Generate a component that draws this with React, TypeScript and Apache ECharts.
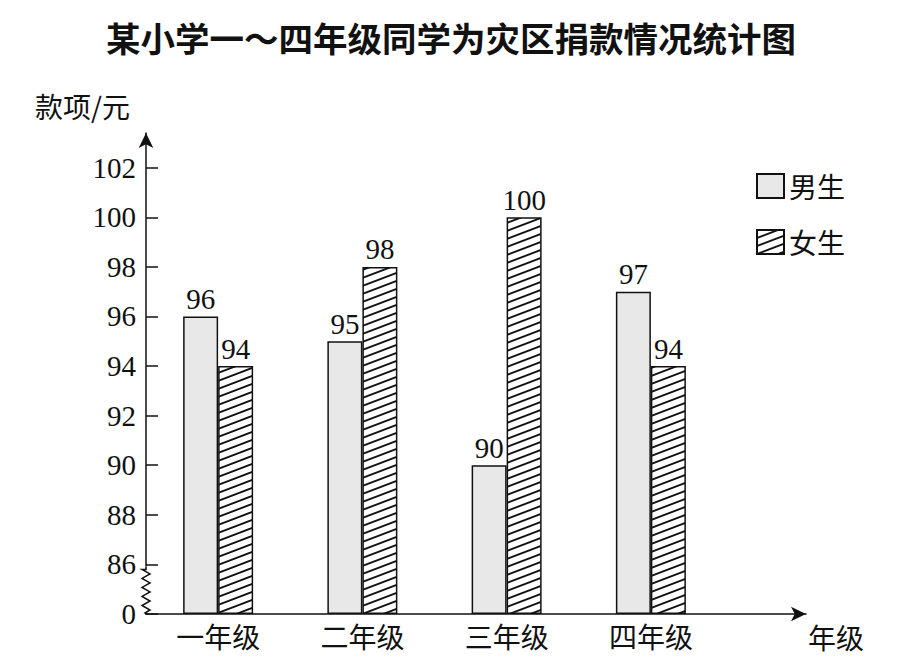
import React, { useEffect, useRef } from 'react';
import * as echarts from 'echarts';

const chartTitle = '某小学一～四年级同学为灾区捐款情况统计图';
const yName = '款项/元';
const xName = '年级';
const categories = ['一年级', '二年级', '三年级', '四年级'];
const seriesNames = ['男生', '女生'];
const boys = [96, 95, 90, 97];
const girls = [94, 98, 100, 94];
const yTickValues = [84, 86, 88, 90, 92, 94, 96, 98, 100, 102];
const yTickLabels = ['0', '86', '88', '90', '92', '94', '96', '98', '100', '102'];
const yMin = 84;
const yMax = 103.4;
const yInterval = 2;
const yBreakValue = 86;

function makeHatch(ink: string) {
  const w = 21;
  const h = 8;
  const c = document.createElement('canvas');
  c.width = w;
  c.height = h;
  const ctx = c.getContext('2d');
  if (ctx) {
    ctx.fillStyle = '#ffffff';
    ctx.fillRect(0, 0, w, h);
    ctx.strokeStyle = ink;
    ctx.lineWidth = 1.9;
    for (let k = -1; k <= 1; k++) {
      ctx.beginPath();
      ctx.moveTo(-w, h * 2 + k * h);
      ctx.lineTo(w * 2, -h + k * h);
      ctx.stroke();
    }
  }
  return { image: c, repeat: 'repeat', imageWidth: w, imageHeight: h };
}

export default function App() {
  const ref = useRef<HTMLDivElement>(null);
  useEffect(() => {
    if (!ref.current) return;
    const chart = echarts.init(ref.current, null, { renderer: 'svg' });
    const serif = '"Liberation Serif", "DejaVu Serif", serif';
    const cjk = '"Noto Sans CJK SC", "Noto Sans", sans-serif';
    const ink = '#111';
    const GL = 146;
    const GT = 133;
    const GH = 481;
    const axisLineStyle = { color: ink, width: 1.5 };
    const hatch = makeHatch(ink);

    chart.setOption({
      animation: false,
      backgroundColor: '#fff',
      title: [
        {
          text: chartTitle,
          left: 106,
          top: 20,
          padding: 0,
          textStyle: { fontFamily: cjk, fontSize: 34.5, fontWeight: 'bold', color: ink },
        },
        {
          text: yName,
          left: 35,
          top: 92,
          padding: 0,
          textStyle: { fontFamily: cjk, fontSize: 28, fontWeight: 'normal', color: ink },
        },
      ],
      legend: {
        orient: 'vertical',
        left: 756,
        top: 172,
        padding: 0,
        itemWidth: 27,
        itemHeight: 24,
        itemGap: 28,
        icon: 'rect',
        data: seriesNames,
        textStyle: { fontFamily: cjk, fontSize: 28, color: ink },
      },
      grid: [
        { left: GL, top: GT, width: 577, height: GH },
        { left: GL, top: GT, width: 660, height: GH },
      ],
      xAxis: [
        {
          type: 'category',
          gridIndex: 0,
          data: categories,
          axisLine: { show: false },
          axisTick: { show: false },
          axisLabel: { fontFamily: cjk, fontSize: 28, color: ink, margin: 8 },
        },
        {
          type: 'value',
          gridIndex: 1,
          min: 0,
          max: 1,
          axisLine: {
            show: true,
            onZero: false,
            lineStyle: axisLineStyle,
            symbol: ['none', 'arrow'],
            symbolSize: [11, 15],
          },
          axisTick: { show: false },
          axisLabel: { show: false },
          splitLine: { show: false },
          name: xName,
          nameLocation: 'end',
          nameGap: 2,
          nameTextStyle: {
            fontFamily: cjk,
            fontSize: 28,
            color: ink,
            align: 'left',
            verticalAlign: 'top',
            padding: [9, 0, 0, 0],
          },
        },
      ],
      yAxis: [
        {
          type: 'value',
          gridIndex: 0,
          min: yMin,
          max: yMax,
          interval: yInterval,
          startValue: yMin,
          axisLine: {
            show: true,
            onZero: false,
            lineStyle: axisLineStyle,
            symbol: ['none', 'arrow'],
            symbolSize: [11, 15],
          },
          axisTick: {
            show: true,
            inside: true,
            length: 12,
            customValues: yTickValues,
            lineStyle: axisLineStyle,
          },
          axisLabel: {
            customValues: yTickValues,
            formatter: (v: number) => {
              const i = yTickValues.indexOf(v);
              return i >= 0 ? yTickLabels[i] : '';
            },
            fontFamily: serif,
            fontSize: 29,
            color: ink,
            margin: 10,
          },
          splitLine: { show: false },
        },
        { type: 'value', gridIndex: 1, show: false, min: 0, max: 1 },
      ],
      series: [
        {
          name: seriesNames[0],
          type: 'bar',
          xAxisIndex: 0,
          yAxisIndex: 0,
          data: boys,
          barWidth: 35,
          barGap: '0%',
          itemStyle: { color: '#e8e8e8', borderColor: ink, borderWidth: 1.5 },
          label: {
            show: true,
            position: 'top',
            distance: 3,
            fontFamily: serif,
            fontSize: 29,
            color: ink,
          },
        },
        {
          name: seriesNames[1],
          type: 'bar',
          xAxisIndex: 0,
          yAxisIndex: 0,
          data: girls,
          barWidth: 35,
          barGap: '0%',
          itemStyle: {
            color: hatch,
            borderColor: ink,
            borderWidth: 1.5,
          },
          label: {
            show: true,
            position: 'top',
            distance: 3,
            fontFamily: serif,
            fontSize: 29,
            color: ink,
          },
        },
      ],
    });

    // axis break (zigzag) between 0 and the first real tick
    const yTop = chart.convertToPixel({ yAxisIndex: 0 }, yBreakValue) as number;
    const yBot = chart.convertToPixel({ yAxisIndex: 0 }, yMin) as number;
    const zTop = yTop + 5;
    const zBot = yBot - 4;
    const n = 9;
    const pts: number[][] = [[GL, yTop + 2], [GL, zTop]];
    for (let i = 0; i <= n; i++) {
      const y = zTop + ((zBot - zTop) * i) / n;
      pts.push([i % 2 === 0 ? GL - 4 : GL + 4, y]);
    }
    pts.push([GL - 1, yBot - 1]);
    pts.push([GL + 1, yBot]);
    chart.setOption({
      graphic: {
        elements: [
          {
            type: 'rect',
            z: 100,
            shape: { x: GL - 3, y: yTop + 2, width: 6, height: yBot - yTop - 3 },
            style: { fill: '#fff' },
            silent: true,
          },
          {
            type: 'polyline',
            z: 101,
            shape: { points: pts },
            style: { stroke: ink, lineWidth: 1.5, fill: null },
            silent: true,
          },
        ],
      },
    });

    return () => {
      chart.dispose();
    };
  }, []);

  return (
    <div
      ref={ref}
      style={{ position: 'fixed', left: 0, top: 0, width: 922, height: 668, background: '#fff' }}
    />
  );
}
